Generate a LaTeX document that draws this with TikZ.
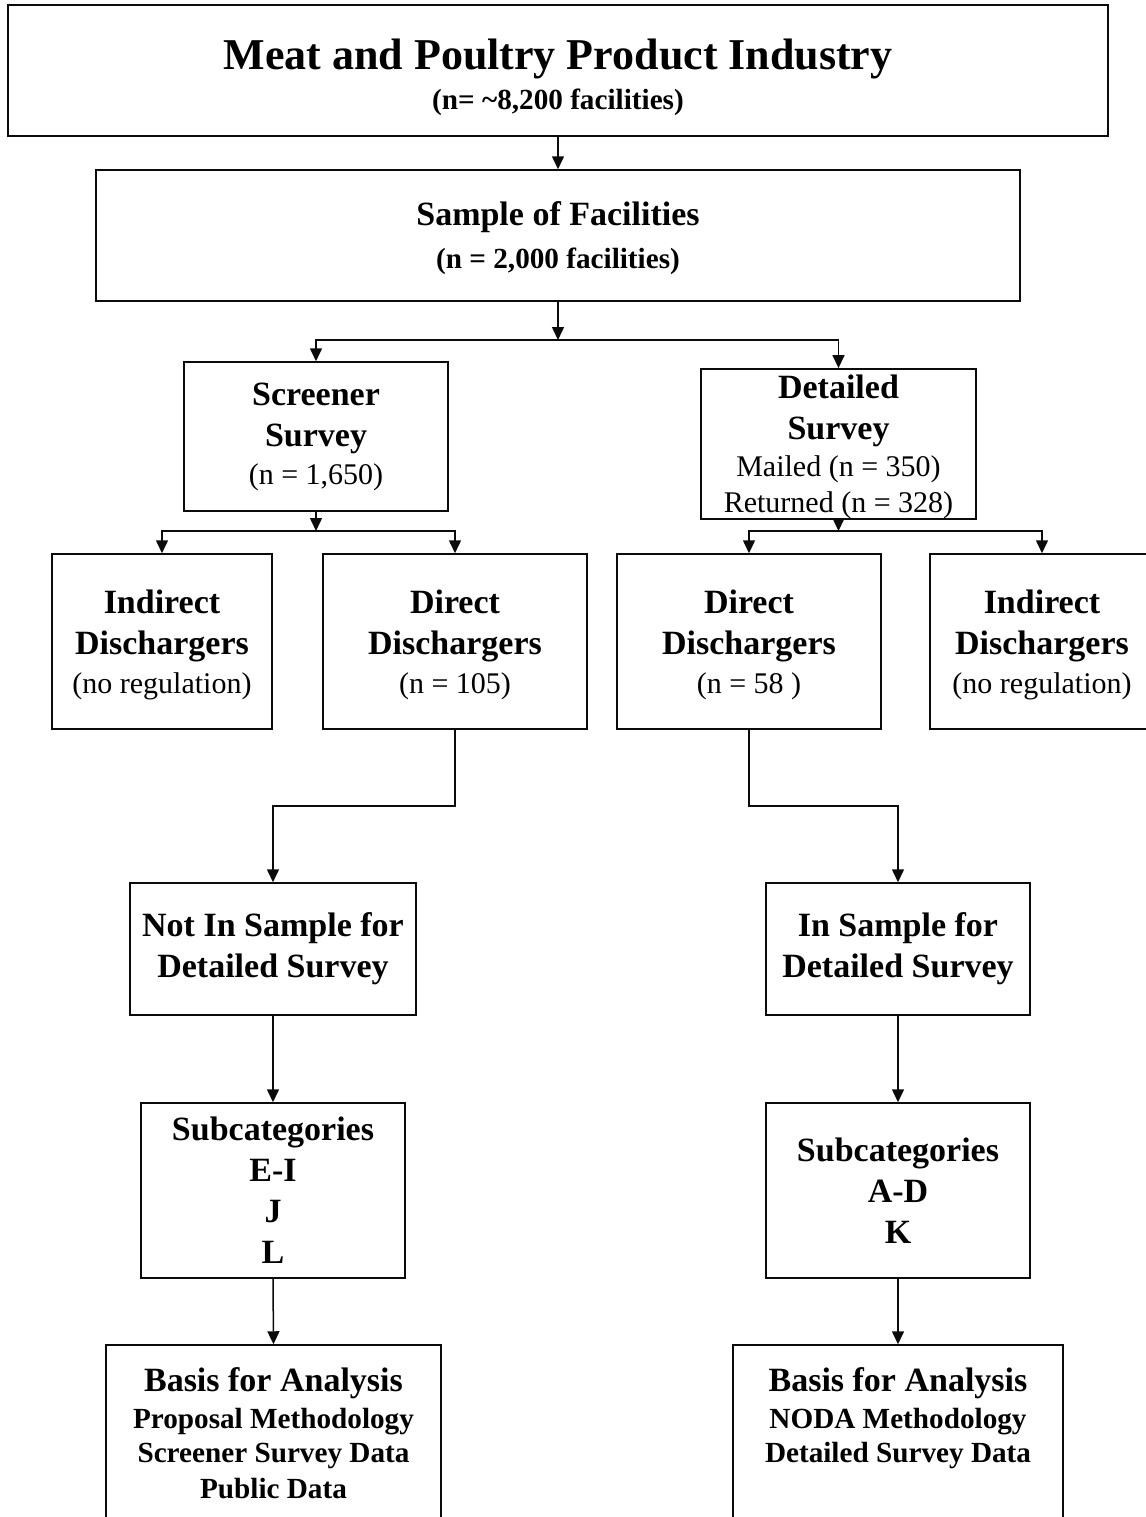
\documentclass[tikz,border=0pt]{standalone}
\usepackage{fontspec}
\setmainfont{Liberation Serif}
\usepackage{tikz}
\usetikzlibrary{arrows.meta,calc,positioning}
\definecolor{tinta}{HTML}{0B0B0B}
\newcommand{\titulo}{\fontsize{22}{26}\selectfont\bfseries}
\newcommand{\grande}{\fontsize{17}{20.5}\selectfont\bfseries}
\newcommand{\menor}{\fontsize{14.6}{17.5}\selectfont\bfseries}
\newcommand{\comun}{\fontsize{15}{18}\selectfont\mdseries}
\tikzset{
  caja/.style={draw=tinta,line width=0.75pt,fill=white,align=center,inner sep=0pt,font=\grande},
  flecha/.style={draw=tinta,line width=0.75pt,-{Triangle[width=6pt,length=6.5pt]}},
  linea/.style={draw=tinta,line width=0.75pt},
}
\begin{document}
\begin{tikzpicture}[x=0.5pt,y=-0.5pt]
\useasboundingbox (0,0) rectangle (1146,1517);
\node[caja,minimum width=550pt,minimum height=65.5pt] (ind) at (558,70.5)
  {{\titulo\rule{0pt}{22pt}Meat and Poultry Product Industry}\\[-0.5pt]{\menor (n= \textasciitilde8,200 facilities)}};
\node[caja,minimum width=462pt,minimum height=65.5pt] (mue) at (558,235.5)
  {{\grande\rule{0pt}{15pt}Sample of Facilities}\\[1pt]{\menor (n = 2,000 facilities)}};
\node[caja,minimum width=132pt,minimum height=74.5pt] (scr) at (316,436.5)
  {{\grande Screener}\\{\grande Survey}\\[-1.5pt]{\comun (n = 1,650)}};
\node[caja,minimum width=137.5pt,minimum height=74pt] (det) at (838.5,444)
  {{\grande\rule{0pt}{15pt}Detailed}\\{\grande Survey}\\[-2pt]{\comun Mailed (n = 350)}\\[-2.5pt]{\comun Returned (n = 328)}};
\node[caja,minimum width=110pt,minimum height=87.5pt] (ind1) at (162,641.5)
  {{\grande\rule{0pt}{15pt}Indirect}\\{\grande Dischargers}\\[-1pt]{\comun (no regulation)}};
\node[caja,minimum width=132pt,minimum height=87.5pt] (dir1) at (455,641.5)
  {{\grande\rule{0pt}{15pt}Direct}\\{\grande Dischargers}\\[-1pt]{\comun (n = 105)}};
\node[caja,minimum width=132pt,minimum height=87.5pt] (dir2) at (749,641.5)
  {{\grande\rule{0pt}{15pt}Direct}\\{\grande Dischargers}\\[-1pt]{\comun (n = 58 )}};
\node[caja,minimum width=112pt,minimum height=87.5pt] (ind2) at (1042,641.5)
  {{\grande\rule{0pt}{15pt}Indirect}\\{\grande Dischargers}\\[-1pt]{\comun (no regulation)}};
\node[caja,minimum width=143pt,minimum height=66pt] (nom) at (273,949)
  {{\grande Not In Sample for}\\{\grande Detailed Survey}};
\node[caja,minimum width=132pt,minimum height=66pt] (enm) at (898,949)
  {{\grande In Sample for}\\{\grande Detailed Survey}};
\node[caja,minimum width=132pt,minimum height=87.5pt] (subi) at (273,1190.5)
  {{\grande Subcategories}\\{\grande E-I}\\{\grande J}\\{\grande L}};
\node[caja,minimum width=132pt,minimum height=87.5pt] (subd) at (898,1190.5)
  {{\grande Subcategories}\\{\grande A-D}\\{\grande K}};
\node[caja,minimum width=167.5pt,minimum height=88pt] (bas1) at (273.5,1433)
  {{\grande Basis for Analysis}\\[-2pt]{\menor Proposal Methodology}\\[-3.5pt]{\menor Screener Survey Data}\\[-2.5pt]{\menor Public Data}};
\node[caja,minimum width=165pt,minimum height=88pt] (bas2) at (898,1433)
  {{\grande Basis for Analysis}\\[-2pt]{\menor NODA Methodology}\\[-3.5pt]{\menor Detailed Survey Data}\\[-2.5pt]{\menor\vphantom{Public Data}}};
\coordinate (r1) at (558,340);
\coordinate (r2) at (316,531);
\coordinate (r3) at (838.5,531);
\coordinate (q1) at (364,806);
\coordinate (q2) at (823,806);
\draw[flecha] (ind.south) -- (mue.north);
\draw[flecha] (mue.south) -- (r1);
\draw[flecha] (r1) -| (scr.north);
\draw[flecha] (r1) -| (det.north);
\draw[flecha] (scr.south) -- (r2);
\draw[flecha] (r2) -| (ind1.north);
\draw[flecha] (r2) -| (dir1.north);
\draw[flecha] (det.south) -- (r3);
\draw[flecha] (r3) -| (dir2.north);
\draw[flecha] (r3) -| (ind2.north);
\draw[flecha] (dir1.south) |- (q1) -| (nom.north);
\draw[flecha] (dir2.south) |- (q2) -| (enm.north);
\draw[flecha] (nom.south) -- (subi.north);
\draw[flecha] (enm.south) -- (subd.north);
\draw[flecha] (subi.south) -- (bas1.north);
\draw[flecha] (subd.south) -- (bas2.north);
\end{tikzpicture}
\end{document}
